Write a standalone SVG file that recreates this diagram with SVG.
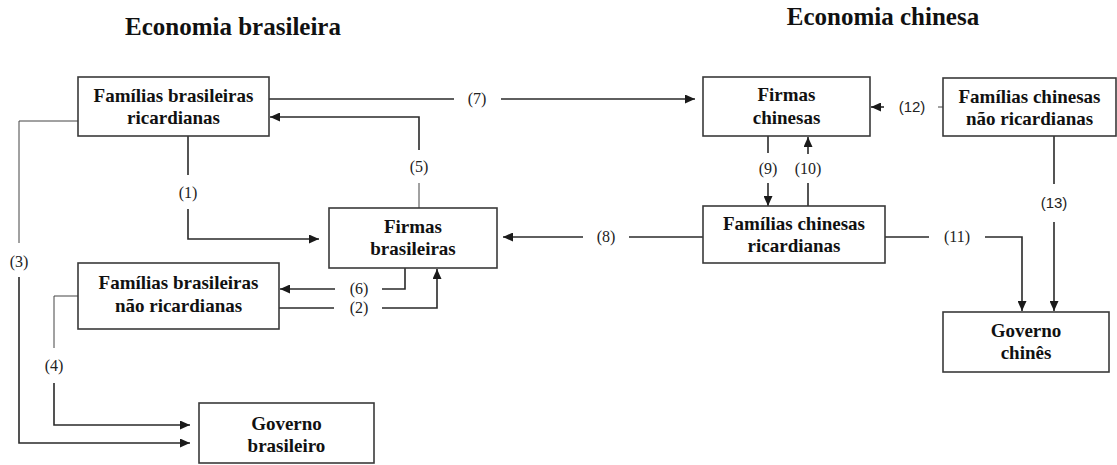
<svg xmlns="http://www.w3.org/2000/svg" width="1117" height="465" viewBox="0 0 1117 465">
<defs>
<marker id="ah" markerUnits="userSpaceOnUse" markerWidth="11" markerHeight="9" refX="10" refY="4.5" orient="auto">
<path d="M0,0 L10,4.5 L0,9 z" fill="#1a1a1a"/>
</marker>
<style>
.box{fill:#fff;stroke:#3a3a3a;stroke-width:1.6}
.bt{font-family:"Liberation Serif","Times New Roman",serif;font-weight:bold;font-size:19px;fill:#111;text-anchor:middle}
.title{font-family:"Liberation Serif","Times New Roman",serif;font-weight:bold;font-size:25px;fill:#111;text-anchor:middle}
.lb{font-family:"Liberation Serif","Times New Roman",serif;font-size:16px;fill:#222;text-anchor:middle}
.lbs{font-family:"Liberation Sans",Arial,sans-serif;font-size:15px;fill:#222;text-anchor:middle}
.c{fill:none;stroke:#2a2a2a;stroke-width:1.6}
.t{fill:none;stroke:#444;stroke-width:1}
.a{marker-end:url(#ah)}
</style>
</defs>
<rect width="1117" height="465" fill="#fff"/>
<text class="title" x="233" y="35">Economia brasileira</text>
<text class="title" x="883" y="25">Economia chinesa</text>

<g id="connectors">
<!-- (1) -->
<path class="c" d="M188,136 V175"/>
<path class="c a" d="M188,209 V239 H319"/>
<text class="lb" x="188" y="198">(1)</text>
<!-- (2) -->
<path class="c" d="M279,308 H334"/>
<path class="c a" d="M382,308 H437 V269"/>
<text class="lb" x="359" y="313">(2)</text>
<!-- (3) -->
<path class="t" d="M78,121 H19 V243"/>
<path class="c a" d="M19,277 V443 H190"/>
<text class="lb" x="19" y="267">(3)</text>
<!-- (4) -->
<path class="t" d="M78,296 H54 V348"/>
<path class="c a" d="M54,383 V425 H190"/>
<text class="lb" x="54" y="371">(4)</text>
<!-- (5) -->
<path class="t" d="M419,208 V183"/>
<path class="c a" d="M419,150 V117 H270"/>
<text class="lb" x="419" y="172">(5)</text>
<!-- (6) -->
<path class="c" d="M405,268 V289 H382"/>
<path class="c a" d="M335,289 H280"/>
<text class="lb" x="359" y="294">(6)</text>
<!-- (7) -->
<path class="c" d="M269,99 H454"/>
<path class="c a" d="M501,99 H695"/>
<text class="lb" x="477" y="104">(7)</text>
<!-- (8) -->
<path class="c" d="M704,237 H629"/>
<path class="c a" d="M583,237 H503"/>
<text class="lb" x="606" y="242">(8)</text>
<!-- (9) -->
<path class="c" d="M768,136 V153"/>
<path class="c a" d="M768,183 V206"/>
<text class="lb" x="768" y="174">(9)</text>
<!-- (10) -->
<path class="c" d="M808,206 V183"/>
<path class="c a" d="M808,154 V137"/>
<text class="lb" x="808" y="174">(10)</text>
<!-- (11) -->
<path class="c" d="M885,237 H929"/>
<path class="c a" d="M985,237 H1022 V311"/>
<text class="lb" x="957" y="242">(11)</text>
<!-- (12) -->
<path class="t" d="M943,107 H938"/>
<path class="c a" d="M884,107 H871"/>
<text class="lbs" x="912" y="112">(12)</text>
<!-- (13) -->
<path class="c" d="M1054,136 V184"/>
<path class="c a" d="M1054,222 V311"/>
<text class="lbs" x="1054" y="208">(13)</text>
</g>

<g id="fam-bras-ric">
<rect class="box" x="78" y="77" width="191" height="59"/>
<text class="bt" x="173.5" y="102">Famílias brasileiras</text>
<text class="bt" x="173.5" y="124">ricardianas</text>
</g>
<g id="firmas-bras">
<rect class="box" x="329" y="208" width="168" height="60"/>
<text class="bt" x="413" y="233">Firmas</text>
<text class="bt" x="413" y="255">brasileiras</text>
</g>
<g id="fam-bras-nao-ric">
<rect class="box" x="78" y="263" width="201" height="66"/>
<text class="bt" x="178.5" y="289">Famílias brasileiras</text>
<text class="bt" x="178.5" y="312">não ricardianas</text>
</g>
<g id="gov-bras">
<rect class="box" x="199" y="403" width="175" height="60"/>
<text class="bt" x="286.5" y="430">Governo</text>
<text class="bt" x="286.5" y="452">brasileiro</text>
</g>
<g id="firmas-chin">
<rect class="box" x="703" y="77" width="167" height="59"/>
<text class="bt" x="786.5" y="101">Firmas</text>
<text class="bt" x="786.5" y="124">chinesas</text>
</g>
<g id="fam-chin-nao-ric">
<rect class="box" x="943" y="78" width="173" height="58"/>
<text class="bt" x="1029.5" y="103">Famílias chinesas</text>
<text class="bt" x="1029.5" y="125">não ricardianas</text>
</g>
<g id="fam-chin-ric">
<rect class="box" x="703" y="206" width="182" height="57"/>
<text class="bt" x="794" y="230">Famílias chinesas</text>
<text class="bt" x="794" y="252">ricardianas</text>
</g>
<g id="gov-chin">
<rect class="box" x="943" y="312" width="166" height="60"/>
<text class="bt" x="1026" y="337">Governo</text>
<text class="bt" x="1026" y="359">chinês</text>
</g>
</svg>
